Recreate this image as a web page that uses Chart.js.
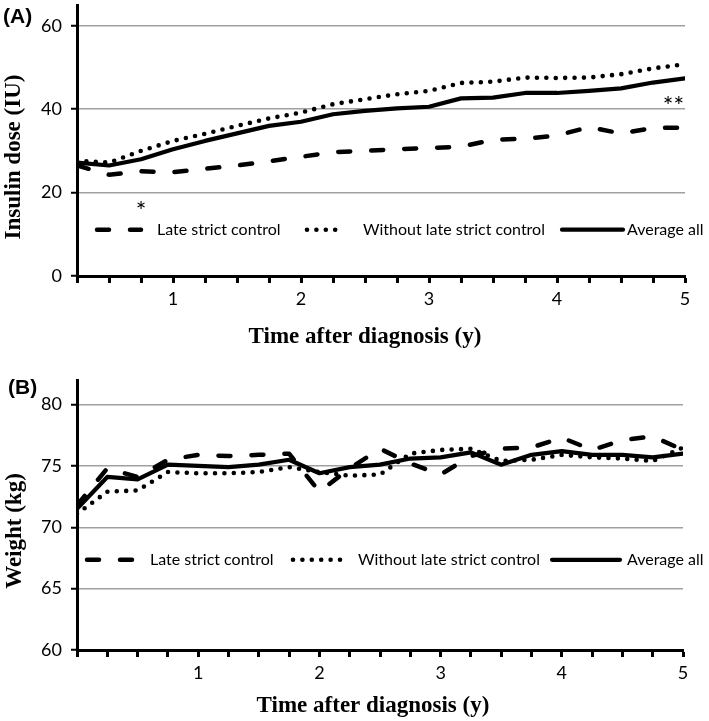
<!DOCTYPE html>
<html>
<head>
<meta charset="utf-8">
<script src="https://cdn.jsdelivr.net/npm/chart.js@4/dist/chart.umd.min.js"></script>
<style>
body{margin:0;background:#fff;}
#wrap{position:relative;width:709px;height:721px;}
canvas{position:absolute;left:0;}
</style>
</head>
<body>
<div id="wrap">
<canvas id="chartA" width="709" height="360" style="top:0"></canvas>
<canvas id="chartB" width="709" height="361" style="top:360px"></canvas>
</div>
<script>
// panel A - insulin dose (IU)
const timesA = [0.25,0.5,0.75,1,1.25,1.5,1.75,2,2.25,2.5,2.75,3,3.25,3.5,3.75,4,4.25,4.5,4.75,5];
const lateStrictA = [26.5,24.3,25.1,24.9,25.7,26.5,27.5,28.6,29.7,30.0,30.4,30.7,31.0,32.7,32.9,33.7,35.7,34.2,35.5,35.6];
const withoutLateA = [27.6,27.2,30.0,32.4,34.1,36.0,37.8,39.2,41.2,42.4,43.6,44.4,46.3,46.6,47.6,47.5,47.6,48.4,49.8,50.8];
const averageA = [27.2,26.5,28.0,30.4,32.4,34.2,36.0,37.0,38.8,39.6,40.2,40.6,42.6,42.8,43.9,43.9,44.4,45.0,46.4,47.4];
const yTicksA = [0,20,40,60];

// panel B - weight (kg)
const timesB = [0,0.25,0.5,0.75,1,1.25,1.5,1.75,2,2.25,2.5,2.75,3,3.25,3.5,3.75,4,4.25,4.5,4.75,5];
const lateStrictB = [71.8,74.8,74.1,75.5,75.9,75.8,75.9,76.0,72.9,74.8,76.4,75.2,74.3,75.8,76.4,76.5,77.3,76.3,77.1,77.4,76.3];
const withoutLateB = [71.1,72.9,73.0,74.5,74.4,74.4,74.5,74.9,74.5,74.2,74.3,76.0,76.3,76.4,75.4,75.5,75.9,75.7,75.6,75.4,76.5];
const averageB = [71.5,74.1,73.9,75.1,75.0,74.9,75.1,75.5,74.4,74.9,75.1,75.6,75.7,76.1,75.1,75.9,76.2,75.9,75.9,75.7,76.0];
const yTicksB = [60,65,70,75,80];

const xLabels = [1,2,3,4,5];
const seriesNames = ['Late strict control','Without late strict control','Average all'];

const tickFont = {family:'Lato', size:18};

function toPoints(xs, ys){
    return xs.map((x,i)=>({x:x, y:ys[i]}));
}

function makeDatasets(times, late, without, avg){
    return [{
        label: seriesNames[0],
        data: toPoints(times, late),
        borderColor: '#000',
        borderWidth: 4.5,
        borderDash: [12,21],
        borderCapStyle: 'round'
    },{
        label: seriesNames[1],
        data: toPoints(times, without),
        borderColor: '#000',
        borderWidth: 4.6,
        borderDash: [0,9.4],
        borderCapStyle: 'round'
    },{
        label: seriesNames[2],
        data: toPoints(times, avg),
        borderColor: '#000',
        borderWidth: 4.2,
        borderCapStyle: 'round'
    }];
}

// legend inside the plot, titles, panel letter and stars
const decor = {
    id: 'decor',
    afterDraw(chart, args, o){
        const ctx = chart.ctx;
        const xs = chart.scales.x, ys = chart.scales.y;
        ctx.save();
        ctx.fillStyle = '#000';
        ctx.textBaseline = 'middle';

        ctx.font = 'bold 21px "Liberation Sans"';
        ctx.textAlign = 'left';
        ctx.fillText(o.panel, o.panelPos[0], o.panelPos[1]);

        ctx.font = 'bold 23px "Liberation Serif"';
        ctx.textAlign = 'center';
        ctx.fillText(o.xTitle, o.xTitlePos[0], o.xTitlePos[1]);
        ctx.save();
        ctx.translate(o.yTitlePos[0], o.yTitlePos[1]);
        ctx.rotate(-Math.PI/2);
        ctx.fillText(o.yTitle, 0, 0);
        ctx.restore();

        ctx.font = '25px Lato';
        ctx.textBaseline = 'alphabetic';
        (o.stars||[]).forEach(s=>{
            ctx.fillText(s.text, xs.getPixelForValue(s.x), ys.getPixelForValue(s.y)+14);
        });

        const ly = ys.getPixelForValue(o.legendY);
        ctx.font = '16px Lato';
        ctx.textAlign = 'left';
        ctx.textBaseline = 'middle';
        chart.data.datasets.forEach((ds,i)=>{
            const it = o.legendItems[i];
            ctx.beginPath();
            ctx.setLineDash(ds.borderDash || []);
            ctx.lineWidth = ds.borderWidth;
            ctx.lineCap = ds.borderCapStyle;
            ctx.strokeStyle = ds.borderColor;
            ctx.moveTo(it.from, ly);
            ctx.lineTo(it.to, ly);
            ctx.stroke();
            ctx.fillText(ds.label, it.text, ly);
        });
        ctx.restore();
    }
};

function makeChart(id, cfg){
    return new Chart(document.getElementById(id), {
        type: 'line',
        data: {datasets: makeDatasets(cfg.times, cfg.late, cfg.without, cfg.avg)},
        plugins: [decor],
        options: {
            responsive: false,
            animation: false,
            layout: {padding: {top: cfg.top, right: cfg.right, left: 0, bottom: 0}},
            elements: {point: {radius: 0}, line: {tension: 0, borderJoinStyle: 'round'}},
            plugins: {
                legend: {display: false},
                tooltip: {enabled: false},
                decor: cfg.decor
            },
            scales: {
                x: {
                    type: 'linear',
                    min: cfg.times[0],
                    max: 5,
                    afterBuildTicks: s => { s.ticks = cfg.times.map(v=>({value:v})); },
                    afterFit: s => { s.height = cfg.xHeight; s.paddingLeft = 0; s.paddingRight = 0; },
                    ticks: {
                        autoSkip: false,
                        maxRotation: 0,
                        padding: 5,
                        color: '#000',
                        font: tickFont,
                        callback: v => xLabels.includes(v) ? String(v) : ''
                    },
                    grid: {drawOnChartArea: false, tickLength: 7, tickColor: '#000', tickWidth: 3},
                    border: {color: '#000', width: 3}
                },
                y: {
                    min: cfg.yMin,
                    max: cfg.yMax,
                    afterBuildTicks: s => { s.ticks = cfg.yTicks.map(v=>({value:v})); },
                    afterFit: s => { s.width = 77; s.paddingTop = 0; s.paddingBottom = 0; },
                    ticks: {padding: 9, color: '#000', font: tickFont},
                    grid: {color: '#a0a0a0', lineWidth: 1.5, tickLength: 6, tickColor: '#000', tickWidth: 2},
                    border: {color: '#000', width: 3}
                }
            }
        }
    });
}

makeChart('chartA', {
    times: timesA, late: lateStrictA, without: withoutLateA, avg: averageA,
    yMin: 0, yMax: 65, yTicks: yTicksA,
    top: 5, right: 24, xHeight: 84,
    decor: {
        panel: '(A)', panelPos: [3, 17],
        xTitle: 'Time after diagnosis (y)', xTitlePos: [365, 337],
        yTitle: 'Insulin dose (IU)', yTitlePos: [14, 157],
        stars: [{text:'*', x:0.75, y:16.9}, {text:'**', x:4.91, y:42}],
        legendY: 11.1,
        legendItems: [{from:97, to:141, text:157}, {from:307, to:340, text:363}, {from:562, to:623, text:627}]
    }
});

makeChart('chartB', {
    times: timesB, late: lateStrictB, without: withoutLateB, avg: averageB,
    yMin: 60, yMax: 82, yTicks: yTicksB,
    top: 20, right: 26, xHeight: 71,
    decor: {
        panel: '(B)', panelPos: [8, 28],
        xTitle: 'Time after diagnosis (y)', xTitlePos: [373, 346],
        yTitle: 'Weight (kg)', yTitlePos: [15, 171],
        legendY: 67.35,
        legendItems: [{from:87, to:138, text:150}, {from:293, to:342, text:358}, {from:552, to:620, text:627}]
    }
});
</script>
</body>
</html>
